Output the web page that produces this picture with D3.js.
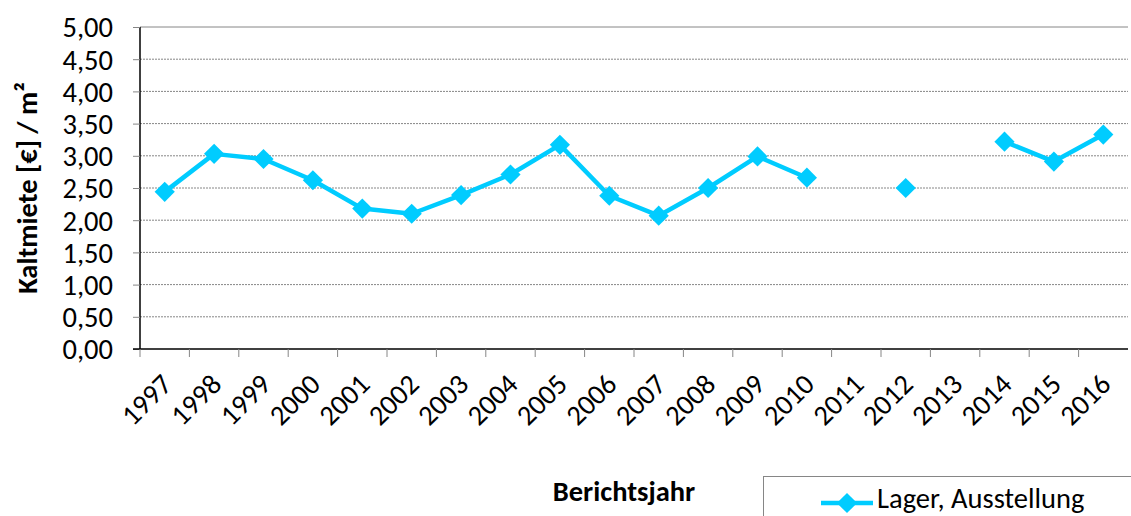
<!DOCTYPE html>
<html>
<head>
<meta charset="utf-8">
<script src="https://cdn.jsdelivr.net/npm/d3@7"></script>
<style>
  body { margin: 0; background: #fff; }
  text { font-family: Carlito, "Open Sans", "Noto Sans", sans-serif; }
</style>
</head>
<body>
<script>
var years = ["1997","1998","1999","2000","2001","2002","2003","2004","2005","2006",
             "2007","2008","2009","2010","2011","2012","2013","2014","2015","2016"];
var rent = [2.44, 3.03, 2.95, 2.62, 2.18, 2.10, 2.39, 2.71, 3.17, 2.38,
            2.07, 2.50, 2.99, 2.66, null, 2.50, null, 3.22, 2.91, 3.33];
var yTicks = [0, 0.5, 1, 1.5, 2, 2.5, 3, 3.5, 4, 4.5, 5];
var seriesName = "Lager, Ausstellung";

var W = 1131, H = 516;
var pLeft = 140, pRight = 1128, pTop = 27, pBottom = 349;
var col = "#00CCFF";
var fs = 28.5;

var svg = d3.select("body").append("svg")
  .attr("width", W).attr("height", H);

var x = d3.scaleBand().domain(years).range([pLeft, pRight]);
var y = d3.scaleLinear().domain([0, 5]).range([pBottom, pTop]);

// gridlines
svg.append("g").selectAll("line")
  .data(yTicks.filter(function(d){ return d > 0; }))
  .enter().append("line")
  .attr("x1", pLeft).attr("x2", pRight)
  .attr("y1", function(d){ return y(d); }).attr("y2", function(d){ return y(d); })
  .attr("stroke", "#868686").attr("stroke-width", 1)
  .attr("stroke-dasharray", function(d){ return d == 5 ? null : "2,1"; });

// y axis
var yAxis = d3.axisLeft(y).tickValues(yTicks).tickSize(7)
  .tickFormat(function(d){ return d3.format(".2f")(d).replace(".", ","); });
var gy = svg.append("g").attr("transform", "translate(" + pLeft + ",0)").call(yAxis);
gy.select(".domain").attr("stroke", "#000").attr("stroke-width", 1.5).attr("d", "M0," + pTop + "V" + pBottom);
gy.selectAll(".tick line").attr("stroke", "#868686");
gy.selectAll(".tick text").attr("x", -27).attr("dy", "0.35em")
  .attr("font-size", fs).attr("fill", "#000");

// x axis
var xAxis = d3.axisBottom(x).tickSize(0).tickFormat(function(d){ return d; });
var gx = svg.append("g").attr("transform", "translate(0," + pBottom + ")").call(xAxis);
gx.select(".domain").attr("stroke", "#000").attr("stroke-width", 1.5).attr("d", "M" + (pLeft - 7) + ",0H" + pRight);
gx.selectAll(".tick text")
  .attr("font-size", fs).attr("fill", "#000")
  .attr("text-anchor", "end")
  .attr("transform", "translate(2,30) rotate(-45)")
  .attr("y", 0).attr("dy", "0.35em");
// category boundary ticks
svg.append("g").selectAll("line")
  .data(years)
  .enter().append("line")
  .attr("x1", function(d){ return x(d); }).attr("x2", function(d){ return x(d); })
  .attr("y1", pBottom).attr("y2", pBottom + 8)
  .attr("stroke", "#868686");

// line
var line = d3.line()
  .defined(function(d){ return d != null; })
  .x(function(d, i){ return x(years[i]) + x.bandwidth() / 2; })
  .y(function(d){ return y(d); });
svg.append("path").datum(rent)
  .attr("d", line).attr("fill", "none")
  .attr("stroke", col).attr("stroke-width", 4.5).attr("stroke-linejoin", "round");

var diamond = d3.symbol().type(d3.symbolDiamond2).size(260);
svg.append("g").selectAll("path")
  .data(rent.map(function(v, i){ return {v: v, yr: years[i]}; }).filter(function(d){ return d.v != null; }))
  .enter().append("path")
  .attr("d", diamond)
  .attr("transform", function(d){ return "translate(" + (x(d.yr) + x.bandwidth() / 2) + "," + y(d.v) + ")"; })
  .attr("fill", col);

// axis titles
svg.append("text")
  .attr("transform", "translate(37," + ((pTop + pBottom) / 2) + ") rotate(-90)")
  .attr("text-anchor", "middle").attr("font-size", fs).attr("font-weight", "bold")
  .text("Kaltmiete [€] / m²");
svg.append("text")
  .attr("x", 624).attr("y", 501)
  .attr("text-anchor", "middle").attr("font-size", fs).attr("font-weight", "bold")
  .text("Berichtsjahr");

// legend
svg.append("rect")
  .attr("x", 763.5).attr("y", 476.5).attr("width", 400).attr("height", 60)
  .attr("fill", "#fff").attr("stroke", "#868686");
svg.append("line")
  .attr("x1", 821).attr("x2", 873).attr("y1", 503).attr("y2", 503)
  .attr("stroke", col).attr("stroke-width", 4.5);
svg.append("path").attr("d", diamond)
  .attr("transform", "translate(847,503)").attr("fill", col);
svg.append("text")
  .attr("x", 877).attr("y", 508).attr("font-size", fs)
  .text(seriesName);
</script>
</body>
</html>
